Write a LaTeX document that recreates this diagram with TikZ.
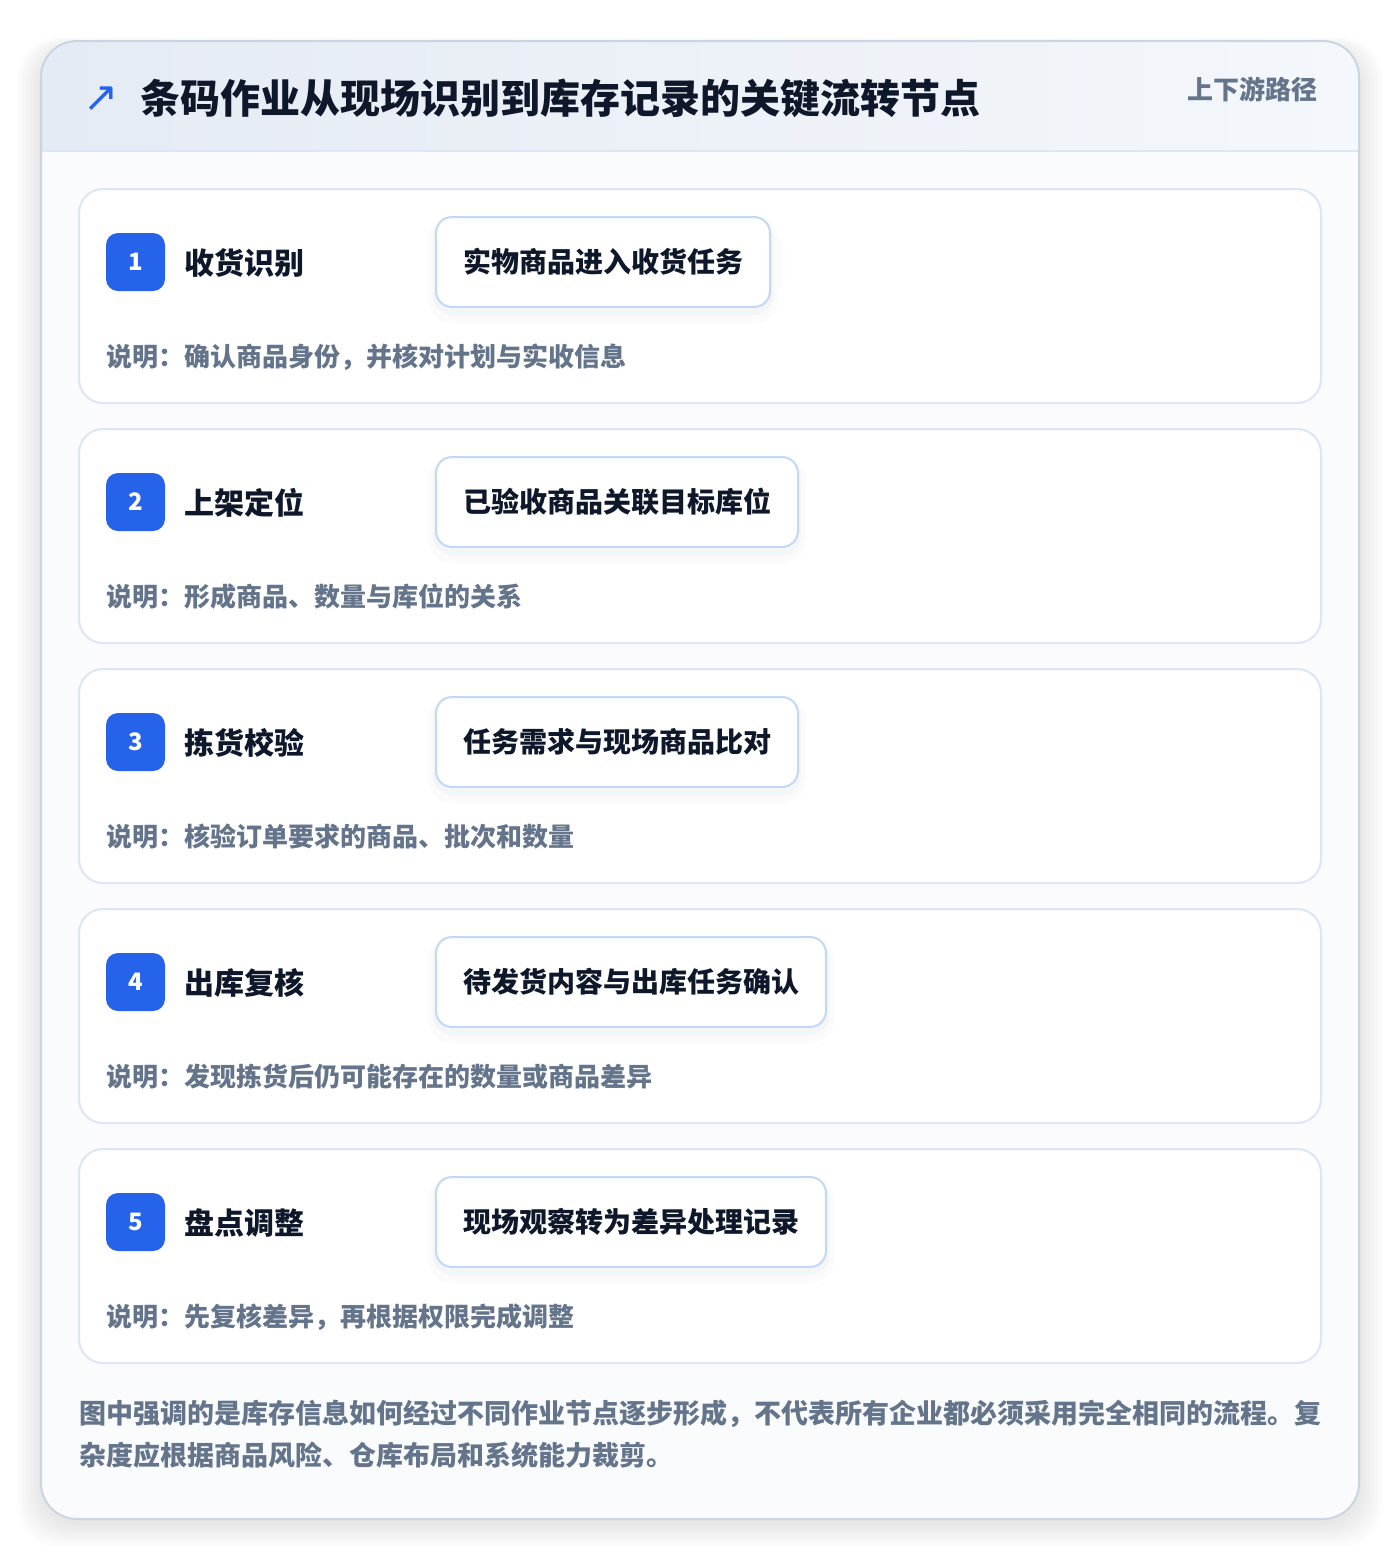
\documentclass[tikz,border=0pt]{standalone}
\usepackage{fontspec}
\setmainfont{Noto Sans CJK SC}
\newfontfamily\symfont{DejaVu Sans}
\definecolor{bluebadge}{HTML}{2563EB}
\definecolor{darktext}{HTML}{0F172A}
\definecolor{graytext}{HTML}{64748B}
\definecolor{cardborder}{HTML}{DCE7F6}
\definecolor{pillborder}{HTML}{C3D8F3}
\definecolor{outerborder}{HTML}{CBD5E1}
\definecolor{hdrL}{HTML}{E5EBF4}
\definecolor{hdrR}{HTML}{F4F7FB}
\definecolor{hdrline}{HTML}{DCE6F4}
\definecolor{bodybg}{HTML}{F9FBFD}
\definecolor{shadowc}{HTML}{475569}
\begin{document}
\begin{tikzpicture}[x=0.5pt,y=-0.5pt,
  cardbox/.style={rectangle, rounded corners=12pt, draw=cardborder, fill=white, line width=1pt,
    minimum width=621pt, minimum height=107pt, inner sep=0pt},
  badgebox/.style={rectangle, rounded corners=6pt, fill=bluebadge, minimum width=29.5pt, minimum height=29pt,
    inner sep=0pt, text=white, font=\fontsize{12}{14}\selectfont\bfseries},
  steptitle/.style={anchor=west, inner sep=0pt, text=darktext, font=\fontsize{15}{18}\selectfont\bfseries},
  pillbox/.style={anchor=west, rectangle, rounded corners=8pt, draw=pillborder, fill=white, line width=1pt,
    inner xsep=13.5pt, inner ysep=0pt, minimum height=45pt, text=darktext,
    font=\fontsize{14}{17}\selectfont\bfseries,
    preaction={draw=shadowc, line width=8pt, draw opacity=0.02, transform canvas={yshift=-4pt}},
    preaction={draw=shadowc, line width=3pt, draw opacity=0.035, transform canvas={yshift=-2.5pt}}},
  desctext/.style={anchor=west, inner sep=0pt, text=graytext, font=\fontsize{13}{16}\selectfont\bfseries}
]
\useasboundingbox (0,0) rectangle (1400,1560);
\fill[white] (0,0) rectangle (1400,1560);
% outer shadow
\foreach \k in {1,...,12}{
  \fill[shadowc, opacity=0.007, rounded corners=20pt]
    (41-2*\k, 41+8-\k) rectangle (1359+2*\k, 1519+4+2*\k);
}
% outer card
\node[rectangle, rounded corners=18pt, fill=bodybg, minimum width=659pt, minimum height=739pt, inner sep=0pt] (outer) at (700,780) {};
\begin{scope}
  \clip[rounded corners=18pt] (41,41) rectangle (1359,1519);
  \shade[left color=hdrL, right color=hdrR] (41,41) rectangle (1359,151);
\end{scope}
\coordinate (hl) at (41,151);
\coordinate (hr) at (1359,151);
\draw[hdrline, line width=1pt] (hl) -- (hr);
\draw[outerborder, line width=1pt, rounded corners=18pt] (41,41) rectangle (1359,1519);
% header
\node[inner sep=0pt, text=bluebadge, font=\symfont\fontsize{21}{24}\selectfont] (icon) at (101,99) {↗};
\node[anchor=west, inner sep=0pt, text=darktext, font=\fontsize{20}{24}\selectfont\bfseries] (title) at (140,98) {条码作业从现场识别到库存记录的关键流转节点};
\node[anchor=east, inner sep=0pt, text=graytext, font=\fontsize{13}{16}\selectfont\bfseries] (tag) at (1318,89) {上下游路径};
% steps
\foreach \i/\t/\p/\d in {
  1/收货识别/实物商品进入收货任务/说明：确认商品身份，并核对计划与实收信息,
  2/上架定位/已验收商品关联目标库位/说明：形成商品、数量与库位的关系,
  3/拣货校验/任务需求与现场商品比对/说明：核验订单要求的商品、批次和数量,
  4/出库复核/待发货内容与出库任务确认/说明：发现拣货后仍可能存在的数量或商品差异,
  5/盘点调整/现场观察转为差异处理记录/说明：先复核差异，再根据权限完成调整}{
  \pgfmathsetmacro\cy{296+240*(\i-1)}
  \node[cardbox] (card\i) at (700,\cy) {};
  \node[badgebox] (badge\i) at (135.5,\cy-34) {\i};
  \node[steptitle] (title\i) at (184,\cy-33) {\t};
  \node[pillbox] (pill\i) at (435,\cy-34) {\p};
  \node[desctext] (desc\i) at (106,\cy+61) {\d};
}
% footer
\node[anchor=north west, inner sep=0pt, align=left, text=graytext, font=\fontsize{13.5}{21}\selectfont\bfseries] (foot) at (79,1400)
  {图中强调的是库存信息如何经过不同作业节点逐步形成，不代表所有企业都必须采用完全相同的流程。复\\杂度应根据商品风险、仓库布局和系统能力裁剪。};
\end{tikzpicture}
\end{document}
